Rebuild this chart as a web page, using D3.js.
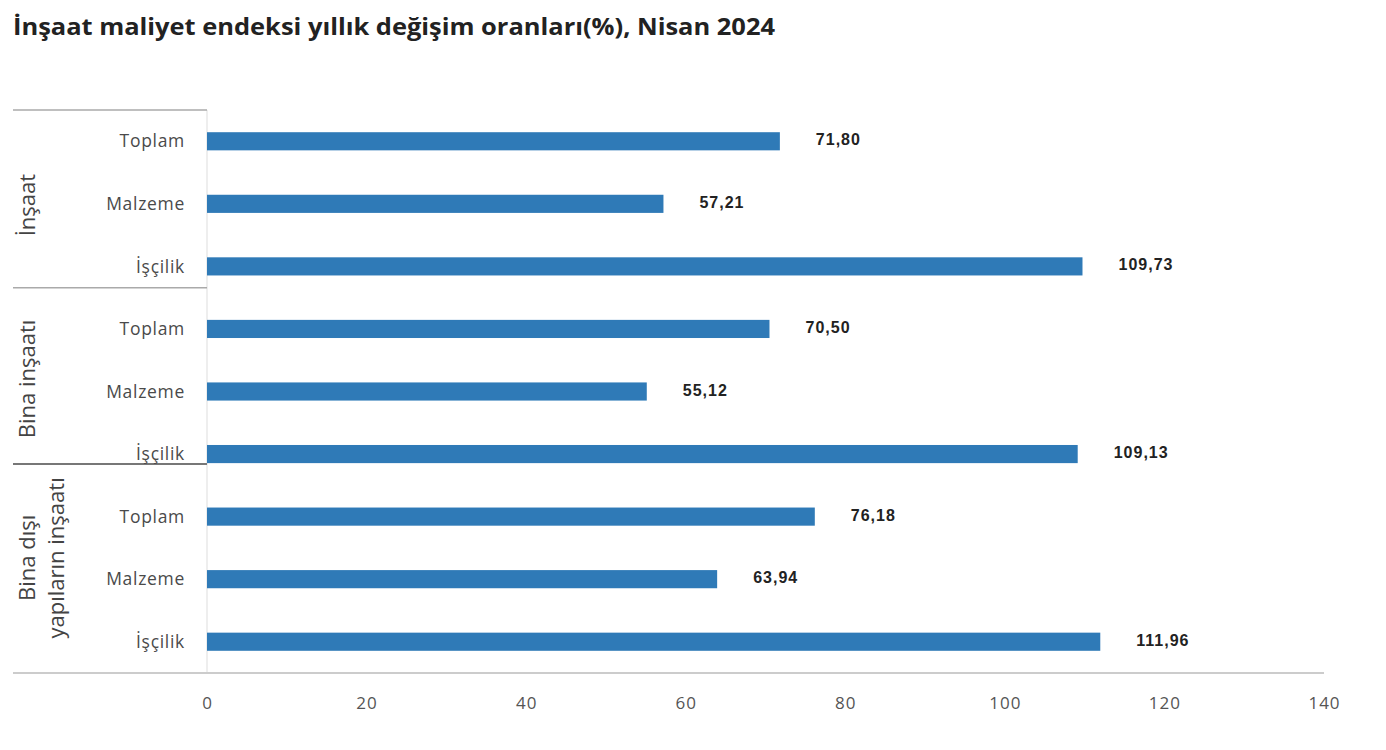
<!DOCTYPE html>
<html>
<head>
<meta charset="utf-8">
<script src="https://cdn.jsdelivr.net/npm/d3@7"></script>
<style>
  body { margin: 0; background: #fff; }
  svg { display: block; }
</style>
</head>
<body>
<div id="chart"></div>
<script>
const width = 1386, height = 750;

// data
const groups = ["İnşaat", "Bina inşaatı", "Bina dışı yapıların inşaatı"];
const groupLines = [["İnşaat"], ["Bina inşaatı"], ["Bina dışı", "yapıların inşaatı"]];
const categories = ["Toplam", "Malzeme", "İşçilik"];
const values = [
  [71.80, 57.21, 109.73],
  [70.50, 55.12, 109.13],
  [76.18, 63.94, 111.96]
];
const xTicks = [0, 20, 40, 60, 80, 100, 120, 140];

const rows = [];
groups.forEach((g, gi) => {
  categories.forEach((c, ci) => {
    rows.push({ key: gi + "-" + ci, group: g, cat: c, value: values[gi][ci] });
  });
});

const margin = { top: 110, right: 62, bottom: 77, left: 207 };
const innerW = width - margin.left - margin.right;
const innerH = height - margin.top - margin.bottom;

const svg = d3.select("#chart").append("svg")
  .attr("width", width)
  .attr("height", height);

svg.append("text")
  .attr("x", 13)
  .attr("y", 35)
  .attr("font-family", "Open Sans")
  .attr("font-weight", "bold")
  .attr("font-size", 24)
  .attr("fill", "#222")
  .attr("textLength", 762)
  .attr("lengthAdjust", "spacingAndGlyphs")
  .text("İnşaat maliyet endeksi yıllık değişim oranları(%), Nisan 2024");

const g = svg.append("g").attr("transform", `translate(${margin.left},${margin.top})`);

const x = d3.scaleLinear().domain([0, 140]).range([0, innerW]);
const y = d3.scaleBand().domain(rows.map(d => d.key)).range([0, innerH])
  .paddingInner(0.71).paddingOuter(0.355);

// vertical axis line
g.append("line")
  .attr("x1", 0).attr("x2", 0)
  .attr("y1", 0).attr("y2", innerH)
  .attr("stroke", "#ddd");

// bottom line
g.append("line")
  .attr("x1", 13 - margin.left).attr("x2", innerW)
  .attr("y1", innerH).attr("y2", innerH)
  .attr("stroke", "#ccc").attr("stroke-width", 2);

// top line of category area
g.append("line")
  .attr("x1", 13 - margin.left).attr("x2", 0)
  .attr("y1", 0).attr("y2", 0)
  .attr("stroke", "#aaa").attr("stroke-width", 1.5);

// group separators
const sepPos = [2.84, 5.66];
sepPos.forEach((p, i) => {
  g.append("line")
    .attr("x1", 13 - margin.left).attr("x2", 0)
    .attr("y1", p * y.step()).attr("y2", p * y.step())
    .attr("stroke", i === 0 ? "#aaa" : "#777")
    .attr("stroke-width", i === 0 ? 1.5 : 2);
});

// bars
g.selectAll("rect.bar")
  .data(rows)
  .join("rect")
  .attr("class", "bar")
  .attr("x", 0)
  .attr("y", d => y(d.key))
  .attr("width", d => x(d.value))
  .attr("height", y.bandwidth())
  .attr("fill", "#2f7ab7");

// value labels
g.selectAll("text.val")
  .data(rows)
  .join("text")
  .attr("class", "val")
  .attr("x", d => x(d.value) + 36)
  .attr("y", d => y(d.key) + y.bandwidth() / 2)
  .attr("dy", "0.25em")
  .attr("font-family", "Liberation Sans, Arial")
  .attr("font-weight", "bold")
  .attr("font-size", 16)
  .attr("letter-spacing", 1)
  .attr("fill", "#222")
  .text(d => d3.format(".2f")(d.value).replace(".", ","));

// category labels
g.selectAll("text.cat")
  .data(rows)
  .join("text")
  .attr("class", "cat")
  .attr("x", -22)
  .attr("y", d => y(d.key) + y.bandwidth() / 2)
  .attr("dy", "0.35em")
  .attr("text-anchor", "end")
  .attr("font-family", "Open Sans")
  .attr("font-size", 17.5)
  .attr("fill", "#4a4a4a")
  .attr("letter-spacing", 0.7)
  .text(d => d.cat);

// group labels (rotated)
const groupCenters = [1.52, 4.3, 7.16];
groupLines.forEach((lines, gi) => {
  const cy = groupCenters[gi] * y.step();
  const t = g.append("text")
    .attr("transform", `translate(${35 - margin.left},${cy}) rotate(-90)`)
    .attr("text-anchor", "middle")
    .attr("font-family", "Open Sans")
    .attr("font-size", 22)
    .attr("fill", "#444");
  lines.forEach((l, li) => {
    t.append("tspan")
      .attr("x", 0)
      .attr("dy", li === 0 ? 0 : 29)
      .text(l);
  });
});

// x axis
const xAxis = g.append("g")
  .attr("transform", `translate(0,${innerH})`)
  .call(d3.axisBottom(x).tickValues(xTicks).tickSize(0).tickPadding(24));
xAxis.select(".domain").remove();
xAxis.selectAll("text")
  .attr("font-family", "Open Sans")
  .attr("font-size", 17)
  .attr("letter-spacing", 1)
  .attr("fill", "#555");
</script>
</body>
</html>
